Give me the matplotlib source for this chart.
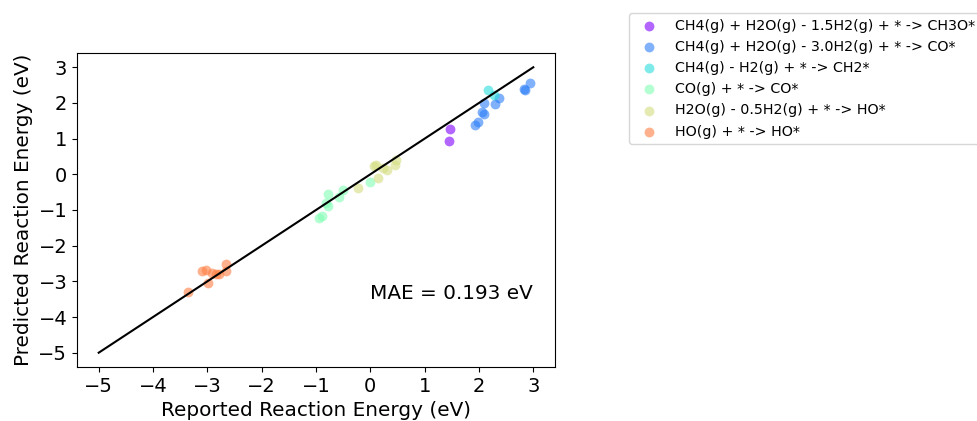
import numpy as np
import matplotlib
matplotlib.use("Agg")
import matplotlib.pyplot as plt

labels = [
    "CH4(g) + H2O(g) - 1.5H2(g) + * -> CH3O*",
    "CH4(g) + H2O(g) - 3.0H2(g) + * -> CO*",
    "CH4(g) - H2(g) + * -> CH2*",
    "CO(g) + * -> CO*",
    "H2O(g) - 0.5H2(g) + * -> HO*",
    "HO(g) + * -> HO*",
]

ch3o_x = [1.46, 1.44]
ch3o_y = [1.28, 0.94]

co_x = [2.94, 2.85, 2.83, 2.37, 2.30, 2.09, 2.06, 2.09, 1.98, 1.92]
co_y = [2.55, 2.35, 2.38, 2.13, 1.96, 2.01, 1.74, 1.68, 1.46, 1.37]

ch2_x = [2.17, 2.28]
ch2_y = [2.35, 2.22]

cog_x = [-0.77, -0.51, -0.57, -0.77, -0.81, -0.89, -0.94, -0.01]
cog_y = [-0.55, -0.44, -0.63, -0.89, -0.81, -1.17, -1.23, -0.22]

ho_h2o_x = [-0.23, 0.06, 0.11, 0.14, 0.30, 0.46, 0.48, 0.24]
ho_h2o_y = [-0.39, 0.24, 0.27, -0.11, 0.13, 0.27, 0.39, 0.18]

hog_x = [-3.35, -2.98, -3.09, -3.02, -2.84, -2.79, -2.65, -2.65, -2.91]
hog_y = [-3.30, -3.06, -2.71, -2.67, -2.80, -2.80, -2.52, -2.71, -2.77]

series_x = [ch3o_x, co_x, ch2_x, cog_x, ho_h2o_x, hog_x]
series_y = [ch3o_y, co_y, ch2_y, cog_y, ho_h2o_y, hog_y]

parity = [-5, 3]
mae_text = "MAE = 0.193 eV"

fig = plt.figure(figsize=(9.78, 4.21), dpi=100)
ax = fig.add_axes([0.0787, 0.1283, 0.4888, 0.7458])

colors = plt.cm.rainbow(np.arange(7) / 6.0)
for i, (xs, ys, lab) in enumerate(zip(series_x, series_y, labels)):
    ax.scatter(xs, ys, color=colors[i], alpha=0.6, s=50, linewidths=0, label=lab)

ax.plot(parity, parity, color="black", lw=1.5)
ax.text(0, -3.5, mae_text, fontsize=14.4)

ax.set_xlabel("Reported Reaction Energy (eV)", fontsize=14.4)
ax.set_ylabel("Predicted Reaction Energy (eV)", fontsize=14.4)
ax.tick_params(labelsize=14)
ax.set_xticks(np.arange(-5, 4, 1))
ax.set_yticks(np.arange(-5, 4, 1))

fig.legend(loc="upper left", bbox_to_anchor=(0.643, 0.969),
           bbox_transform=fig.transFigure, borderaxespad=0, fontsize=10.3)

fig.savefig("out.png", dpi=100)
